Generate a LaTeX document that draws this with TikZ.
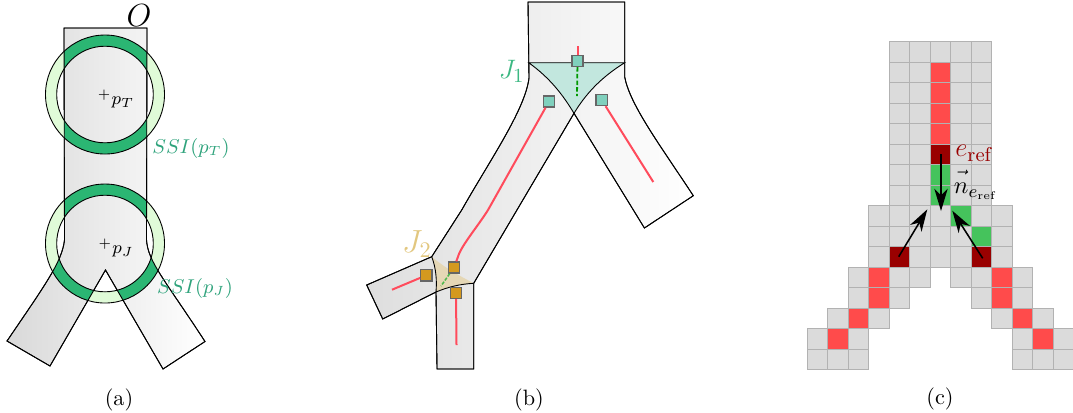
\documentclass[tikz,border=0pt]{standalone}
\usepackage{amsmath,amssymb,amsfonts}
\usepackage{xcolor}
\usetikzlibrary{arrows.meta}
\definecolor{ringlight}{HTML}{E0FBD8}
\definecolor{ringdark}{HTML}{2BB673}
\definecolor{ssitext}{HTML}{2FA37C}
\definecolor{jonetext}{HTML}{3CB882}
\definecolor{jtwotext}{HTML}{E2C77F}
\definecolor{jonefill}{HTML}{C2E7DE}
\definecolor{jtwofill}{HTML}{E5D7B5}
\definecolor{sqone}{HTML}{80D0BD}
\definecolor{sqtwo}{HTML}{D4991F}
\definecolor{spine}{HTML}{FF4B5C}
\definecolor{cellred}{HTML}{FF4B4B}
\definecolor{cellgreen}{HTML}{45C35C}
\definecolor{cellref}{HTML}{990000}
\tikzset{
  bone/.style={left color=black!15,right color=white,draw=black},
  bonelight/.style={left color=black!13,middle color=black!2.5,right color=white,draw=black},
  spineline/.style={draw=spine,line width=0.9pt},
  sqmark/.style={draw=black!60,line width=0.6pt,minimum size=5pt,inner sep=0pt},
  cell/.style={fill=black!14,draw=black!30,line width=0.6pt},
  normalarrow/.style={-{Stealth[length=10pt,width=6pt,inset=3pt]},line width=0.7pt}
}
\newcommand{\boneA}{(64,28) -- (147,28) -- (146.5,240) .. controls (148,262) and (165,280) .. (205,341.5) -- (163,369) -- (105.5,270) -- (50,366) -- (7,341) .. controls (45,285) and (62,262) .. (64.5,240) -- cycle}
\newcommand{\boneB}{(528,2) -- (624.7,2) -- (624.7,77) .. controls (630,105) and (660,145) .. (693.3,195.7) -- (644.4,228) -- (574,113.3) -- (473.7,283.3) -- (473.7,369) -- (437,369) -- (436,292) -- (382.7,319) -- (366.7,285) -- (431.7,256.7) -- (461.7,210) .. controls (490,160) and (525,110) .. (529,78) -- cycle}
\begin{document}
\begin{tikzpicture}[x=0.45pt,y=-0.45pt]
\useasboundingbox (0,0) rectangle (1073,412);
% (a) shape with the two rings
\path[bone] \boneA;
\foreach \cy in {94.5,243.5} {
  \fill[ringlight,even odd rule] (105,\cy) circle (59.5) circle (48.3);
  \begin{scope}
    \clip \boneA;
    \fill[ringdark,even odd rule] (105,\cy) circle (59.5) circle (48.3);
  \end{scope}
  \draw (105,\cy) circle (59.5) circle (48.3);
}
\draw \boneA;
\node[font=\fontsize{13.5}{16}\selectfont] (objO) at (139,16) {$O$};
\node[font=\footnotesize] (ptT) at (116,99) {$^{+}p_T$};
\node[font=\footnotesize] (ptJ) at (116,248) {$^{+}p_J$};
\node[font=\small,text=ssitext] (ssiT) at (191,148) {$SSI(p_T)$};
\node[font=\small,text=ssitext] (ssiJ) at (195,288) {$SSI(p_J)$};
\node (capA) at (119,400) {(a)};
% (b) junctions and skeleton
\path[bonelight] \boneB;
\draw[fill=jonefill] (528.7,62.7) .. controls (550,78) and (563,95) .. (574,113.3) .. controls (585,95) and (600,78) .. (624.7,62.7) -- cycle;
\fill[jtwofill] (431.7,256.7) .. controls (445,268) and (460,276) .. (473.7,283.3) .. controls (460,284) and (448,287) .. (436,292) .. controls (437,280) and (436,268) .. (431.7,256.7) -- cycle;
\draw (473.7,283.3) .. controls (460,284) and (448,287) .. (436,292) .. controls (437,280) and (436,268) .. (431.7,256.7);
\draw \boneB;
\node[sqmark,fill=sqone] (sqT) at (577.5,61) {};
\node[sqmark,fill=sqone] (sqL) at (549,101.5) {};
\node[sqmark,fill=sqone] (sqR) at (601.7,100) {};
\node[sqmark,fill=sqtwo] (sqM) at (454,267.5) {};
\node[sqmark,fill=sqtwo] (sqW) at (426.3,275.3) {};
\node[sqmark,fill=sqtwo] (sqS) at (456,293) {};
\coordinate (endT) at (577.5,46);
\coordinate (endR) at (653.3,182);
\coordinate (endW) at (392,289.7);
\coordinate (endS) at (456.5,345);
\coordinate (dashT) at (577,96);
\coordinate (dashM) at (441,286);
\draw[spineline] (sqT) -- (endT);
\draw[spineline] (sqR) -- (endR);
\draw[spineline] (sqL) -- (488,210) .. controls (478,226) and (461,246) .. (458,256.7) -- (sqM);
\draw[spineline] (sqW) -- (endW);
\draw[spineline] (sqS) -- (endS);
\draw[dash pattern=on 2pt off 1pt,line width=0.8pt,green!60!black] (sqT) -- (dashT);
\draw[dash pattern=on 1.5pt off 0.7pt,line width=0.7pt,green!60!black!70] (sqM) -- (dashM);
\node[font=\fontsize{13}{15}\selectfont,text=jonetext] (labJone) at (511.7,71.7) {$J_1$};
\node[font=\Large,text=jtwotext] (labJtwo) at (417,244) {$J_2$};
\node (capB) at (529,400) {(b)};
% (c) voxel grid, row / columns
\foreach \row/\cols in {0/{4,5,6,7,8},1/{4,5,6,7,8},2/{4,5,6,7,8},3/{4,5,6,7,8},4/{4,5,6,7,8},5/{4,5,6,7,8},6/{4,5,6,7,8},7/{4,5,6,7,8},
  8/{3,4,5,6,7,8,9},9/{3,4,5,6,7,8,9},10/{3,4,5,6,7,8,9},11/{2,3,4,5,7,8,9,10},12/{2,3,4,8,9,10},13/{1,2,3,9,10,11},14/{0,1,2,10,11,12},15/{0,1,2,10,11,12}}
  \foreach \c in \cols
    \draw[cell] (807.3+20.5*\c,41.7+20.5*\row) rectangle ++(20.5,20.5);
% coloured voxels
\foreach \c/\row in {6/1,6/2,6/3,6/4,3/11,3/12,9/11,9/12,2/13,10/13,1/14,11/14}
  \draw[cell,fill=cellred] (807.3+20.5*\c,41.7+20.5*\row) rectangle ++(20.5,20.5);
\foreach \c/\row in {6/6,6/7,7/8,8/9}
  \draw[cell,fill=cellgreen] (807.3+20.5*\c,41.7+20.5*\row) rectangle ++(20.5,20.5);
\foreach \c/\row in {6/5,4/10,8/10}
  \draw[cell,fill=cellref] (807.3+20.5*\c,41.7+20.5*\row) rectangle ++(20.5,20.5);
\coordinate (refT) at (941,154);
\coordinate (tipT) at (941,211);
\coordinate (refL) at (898.7,256.7);
\coordinate (tipL) at (927.3,209.3);
\coordinate (refR) at (982.7,258.3);
\coordinate (tipR) at (952.3,210.7);
\draw[normalarrow] (refT) -- (tipT);
\draw[normalarrow] (refL) -- (tipL);
\draw[normalarrow] (refR) -- (tipR);
\node[font=\fontsize{12.5}{15}\selectfont,text=cellref,inner sep=0pt] (labRef) at (974.5,153) {$e_{\mathrm{ref}}$};
\node[font=\fontsize{11}{13}\selectfont,inner sep=0pt] (labNormal) at (976,185) {$\vec{\vphantom{k}n}_{e_{\mathrm{ref}}}$};
\node (capC) at (940,399) {(c)};
\end{tikzpicture}
\end{document}
